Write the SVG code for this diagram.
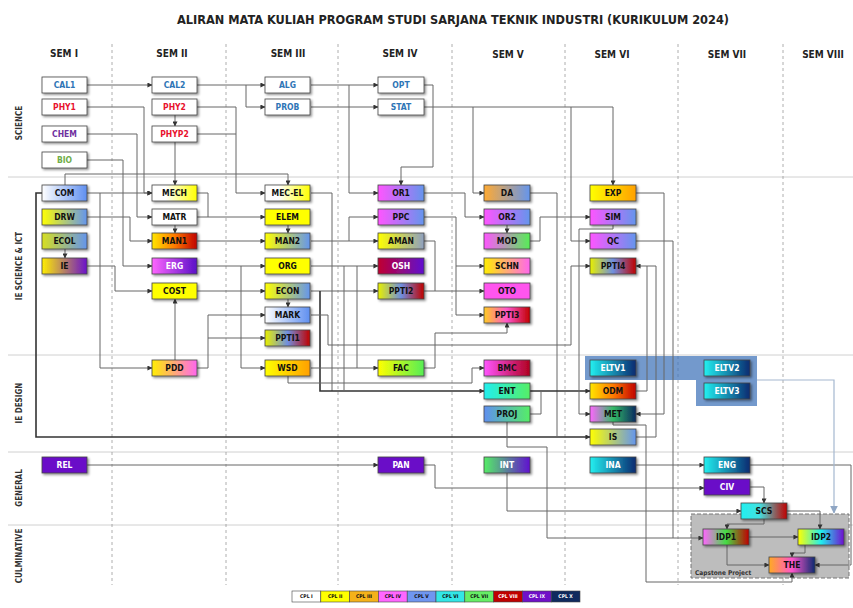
<svg xmlns="http://www.w3.org/2000/svg" width="853" height="608" viewBox="0 0 853 608">
<style>
.t{font-family:"DejaVu Sans Condensed","Liberation Sans",sans-serif;font-stretch:condensed;font-weight:bold;font-size:8.5px;text-anchor:middle;fill:#111}
.tw{fill:#fff}
.box{stroke:#444;stroke-width:0.8;filter:url(#sh)}
.c{fill:none;stroke:#666;stroke-width:1;marker-end:url(#a)}
.n{fill:none;stroke:#666;stroke-width:1}
.k{fill:none;stroke:#333;stroke-width:1.6;marker-end:url(#a)}
.kn{fill:none;stroke:#333;stroke-width:1.6}
.band{stroke:#d0d0d0;stroke-width:1}
.col{stroke:#999;stroke-width:0.8;stroke-dasharray:3,3}
.rl{font-family:"DejaVu Sans Condensed","Liberation Sans",sans-serif;font-weight:bold;font-size:8px;text-anchor:middle;fill:#333}
.sem{font-family:"DejaVu Sans Condensed","Liberation Sans",sans-serif;font-stretch:condensed;font-weight:bold;font-size:10px;text-anchor:middle;fill:#222}
.lg{font-family:"DejaVu Sans Condensed","Liberation Sans",sans-serif;font-weight:bold;font-size:5px;text-anchor:middle;fill:#111}
</style>
<defs>
<filter id="sh" x="-20%" y="-30%" width="150%" height="170%"><feDropShadow dx="1.5" dy="1.5" stdDeviation="0.8" flood-color="#000" flood-opacity="0.45"/></filter>
<marker id="a" viewBox="0 0 6 6" refX="5.5" refY="3" markerWidth="5" markerHeight="5" orient="auto" markerUnits="userSpaceOnUse"><path d="M0,0 L6,3 L0,6 z" fill="#333"/></marker>
<marker id="al" viewBox="0 0 6 6" refX="5.5" refY="3" markerWidth="8" markerHeight="8" orient="auto" markerUnits="userSpaceOnUse"><path d="M0,0 L6,3 L0,6 z" fill="#8fa6c4"/></marker>
<linearGradient id="WB"><stop offset="0" stop-color="#fff"/><stop offset="1" stop-color="#5f8ff0"/></linearGradient>
<linearGradient id="WY"><stop offset="0.3" stop-color="#fff"/><stop offset="1" stop-color="#ffff00"/></linearGradient>
<linearGradient id="YB"><stop offset="0" stop-color="#ffff00"/><stop offset="1" stop-color="#6495ed"/></linearGradient>
<linearGradient id="YGB"><stop offset="0" stop-color="#d7df20"/><stop offset="1" stop-color="#6495ed"/></linearGradient>
<linearGradient id="YP"><stop offset="0" stop-color="#ffee00"/><stop offset="1" stop-color="#6a0fcc"/></linearGradient>
<linearGradient id="YOR"><stop offset="0" stop-color="#ffe600"/><stop offset="0.5" stop-color="#ff7a00"/><stop offset="1" stop-color="#c00000"/></linearGradient>
<linearGradient id="MP"><stop offset="0" stop-color="#ff66ff"/><stop offset="1" stop-color="#5a0fc8"/></linearGradient>
<linearGradient id="YM"><stop offset="0" stop-color="#ffee00"/><stop offset="1" stop-color="#ff66ee"/></linearGradient>
<linearGradient id="YBR"><stop offset="0" stop-color="#e8f000"/><stop offset="0.5" stop-color="#6f8fe0"/><stop offset="1" stop-color="#c00000"/></linearGradient>
<linearGradient id="YO"><stop offset="0" stop-color="#ffff00"/><stop offset="1" stop-color="#ffa000"/></linearGradient>
<linearGradient id="MB"><stop offset="0" stop-color="#ff55ff"/><stop offset="1" stop-color="#6495ed"/></linearGradient>
<linearGradient id="YGr"><stop offset="0" stop-color="#ffff00"/><stop offset="1" stop-color="#8fa0c0"/></linearGradient>
<linearGradient id="RP"><stop offset="0" stop-color="#c00030"/><stop offset="1" stop-color="#6010d0"/></linearGradient>
<linearGradient id="YG"><stop offset="0" stop-color="#ffff00"/><stop offset="1" stop-color="#55ee55"/></linearGradient>
<linearGradient id="OB"><stop offset="0" stop-color="#ffaa33"/><stop offset="1" stop-color="#6495ed"/></linearGradient>
<linearGradient id="MG"><stop offset="0" stop-color="#ff55ff"/><stop offset="1" stop-color="#55ee55"/></linearGradient>
<linearGradient id="OMR"><stop offset="0" stop-color="#ffcc22"/><stop offset="0.5" stop-color="#ff55cc"/><stop offset="1" stop-color="#c00000"/></linearGradient>
<linearGradient id="MR"><stop offset="0" stop-color="#ff55ff"/><stop offset="1" stop-color="#b00020"/></linearGradient>
<linearGradient id="CG"><stop offset="0" stop-color="#22eeee"/><stop offset="1" stop-color="#55ee66"/></linearGradient>
<linearGradient id="BG"><stop offset="0" stop-color="#5f8ff0"/><stop offset="1" stop-color="#55ee66"/></linearGradient>
<linearGradient id="GP"><stop offset="0" stop-color="#55ee66"/><stop offset="1" stop-color="#6010d0"/></linearGradient>
<linearGradient id="CN"><stop offset="0" stop-color="#22f0f0"/><stop offset="1" stop-color="#0b2a70"/></linearGradient>
<linearGradient id="MGN"><stop offset="0" stop-color="#ff66ff"/><stop offset="0.5" stop-color="#33bb66"/><stop offset="1" stop-color="#0b2a60"/></linearGradient>
<linearGradient id="CR"><stop offset="0" stop-color="#22f0f0"/><stop offset="0.4" stop-color="#44e0e0"/><stop offset="1" stop-color="#c00000"/></linearGradient>
<linearGradient id="MGR"><stop offset="0" stop-color="#ff66ff"/><stop offset="0.5" stop-color="#44dd44"/><stop offset="1" stop-color="#c00000"/></linearGradient>
<linearGradient id="YCP"><stop offset="0" stop-color="#ffff00"/><stop offset="0.5" stop-color="#22eeee"/><stop offset="1" stop-color="#7010d0"/></linearGradient>
<linearGradient id="OMN"><stop offset="0" stop-color="#ffaa22"/><stop offset="0.5" stop-color="#ff55cc"/><stop offset="1" stop-color="#0b2a70"/></linearGradient>
</defs>
<rect x="0" y="0" width="853" height="608" fill="#fff"/>
<g id="title"><text x="453" y="24" class="sem" style="font-size:12.5px" textLength="552" lengthAdjust="spacingAndGlyphs">ALIRAN MATA KULIAH PROGRAM STUDI SARJANA TEKNIK INDUSTRI (KURIKULUM 2024)</text></g>
<g id="semesters">
<text x="64" y="57" class="sem">SEM I</text>
<text x="172" y="57" class="sem">SEM II</text>
<text x="288" y="57" class="sem">SEM III</text>
<text x="400" y="57" class="sem">SEM IV</text>
<text x="508" y="58" class="sem">SEM V</text>
<text x="612" y="58" class="sem">SEM VI</text>
<text x="727" y="58" class="sem">SEM VII</text>
<text x="823" y="58" class="sem">SEM VIII</text>
</g>
<g id="grid">
<line x1="8" y1="177" x2="853" y2="177" class="band"/>
<line x1="8" y1="355" x2="853" y2="355" class="band"/>
<line x1="8" y1="452" x2="853" y2="452" class="band"/>
<line x1="8" y1="525" x2="853" y2="525" class="band"/>
<line x1="112" y1="44" x2="112" y2="585" class="col"/>
<line x1="226" y1="44" x2="226" y2="585" class="col"/>
<line x1="338" y1="44" x2="338" y2="585" class="col"/>
<line x1="452" y1="44" x2="452" y2="585" class="col"/>
<line x1="565" y1="44" x2="565" y2="585" class="col"/>
<line x1="678" y1="44" x2="678" y2="585" class="col"/>
<line x1="783" y1="44" x2="783" y2="585" class="col"/>
<text class="rl" transform="translate(22,123) rotate(-90)">SCIENCE</text>
<text class="rl" transform="translate(22,266) rotate(-90)">IE SCIENCE &amp; ICT</text>
<text class="rl" transform="translate(22,403) rotate(-90)">IE DESIGN</text>
<text class="rl" transform="translate(22,488) rotate(-90)">GENERAL</text>
<text class="rl" transform="translate(22,556) rotate(-90)">CULMINATIVE</text>
</g>
<g id="capstone">
<rect x="691" y="514" width="158" height="64" fill="#bdbdbd" stroke="#777" stroke-width="1" stroke-dasharray="4,2"/>
<text x="695" y="575" style="font-family:'DejaVu Sans Condensed','Liberation Sans',sans-serif;font-weight:bold;font-size:6.5px;fill:#333">Capstone Project</text>
</g>
<g id="elective-band"><polygon points="585,356 757,356 757,406 696,406 696,380 585,380" fill="#3d72b8" fill-opacity="0.72"/></g>
<g id="connectors">
<path class="c" d="M87,85 H152"/>
<path class="c" d="M197,85 H265"/>
<path class="c" d="M246,85 V107 H265"/>
<path class="c" d="M311,85 H378"/>
<path class="c" d="M349,85 V193 H378"/>
<path class="c" d="M311,107 H378"/>
<path class="c" d="M424,85 H433 V167 H401 V185"/>
<path class="c" d="M424,107 H613 V185"/>
<path class="c" d="M473,107 V193 H484"/>
<path class="c" d="M571,107 V241 H590"/>
<path class="c" d="M87,107 H144 V193 H152"/>
<path class="c" d="M87,134 H137 V217 H152"/>
<path class="c" d="M87,160 H123 V266 H152"/>
<path class="c" d="M175,115 V126"/>
<path class="c" d="M175,142 V185"/>
<path class="c" d="M197,107 H236 V193 H265"/>
<path class="n" d="M197,134 H236"/>
<path class="c" d="M65,185 V174 H288 V185"/>
<path class="k" d="M42,193 H36 V437 H590"/>
<path class="c" d="M87,193 H152"/>
<path class="c" d="M100,193 V368 H152"/>
<path class="c" d="M87,217 H130 V241 H152"/>
<path class="c" d="M65,249 V258"/>
<path class="c" d="M87,266 H115 V291 H152"/>
<path class="n" d="M197,193 H208 V217"/>
<path class="c" d="M197,217 H265"/>
<path class="c" d="M175,225 V233"/>
<path class="c" d="M197,241 H265"/>
<path class="c" d="M197,266 H265"/>
<path class="c" d="M241,266 V368 H265"/>
<path class="c" d="M197,291 H265"/>
<path class="c" d="M175,360 V299"/>
<path class="c" d="M197,368 H208 V315 H265"/>
<path class="c" d="M208,338 H265"/>
<path class="c" d="M288,225 V233"/>
<path class="c" d="M288,299 V307"/>
<path class="n" d="M311,193 H332 V391"/>
<path class="c" d="M311,241 H378"/>
<path class="c" d="M349,241 V217 H378"/>
<path class="c" d="M311,266 H378"/>
<path class="c" d="M311,291 H378"/>
<path class="k" d="M320,291 V391 H484"/>
<path class="n" d="M344,266 V391"/>
<path class="n" d="M357,266 V368"/>
<path class="c" d="M311,315 H328 V345 H571 V266 H590"/>
<path class="c" d="M311,368 H378"/>
<path class="c" d="M288,376 V383 H472 V368 H484"/>
<path class="c" d="M424,193 H465 V217 H484"/>
<path class="c" d="M424,217 H456 V315 H484"/>
<path class="c" d="M456,266 H484"/>
<path class="n" d="M424,241 H435 V291"/>
<path class="c" d="M424,291 H484"/>
<path class="c" d="M424,368 H435 V333 H507 V323"/>
<path class="c" d="M507,225 V233"/>
<path class="n" d="M530,193 H557 V437"/>
<path class="c" d="M530,241 H540 V217 H590"/>
<path class="k" d="M530,391 H590"/>
<path class="n" d="M530,391 H541 V414 H530"/>
<path class="c" d="M507,422 V447 H547 V538 H703"/>
<path class="c" d="M636,193 H664 V414 H636"/>
<path class="c" d="M613,225 V229 H579 V414 H590"/>
<path class="n" d="M636,241 H673 V538"/>
<path class="c" d="M636,391 H647 V266 H636"/>
<path class="n" d="M636,437 H656 V266 H647"/>
<path class="c" d="M613,422 V425 H646 V582 H792 V573"/>
<path class="c" d="M87,465 H378"/>
<path class="c" d="M424,465 H435 V488 H704"/>
<path class="c" d="M507,473 V511 H741"/>
<path class="c" d="M636,465 H704"/>
<path class="c" d="M750,465 H851 V565 H815"/>
<path class="c" d="M750,487 H764 V503"/>
<path class="c" d="M787,511 H820 V529"/>
<path class="c" d="M764,519 V524 H727 V529"/>
<path class="c" d="M749,537 H798"/>
<path class="c" d="M727,545 V565 H769"/>
<path class="c" d="M805,545 V553 H792 V557"/>
<path d="M757,380 H834 V513" fill="none" stroke="#a5b8d0" stroke-width="1.2" marker-end="url(#al)"/>
</g>
<g id="nodes">
<g id="n-CAL1"><rect x="42" y="77" width="45" height="16" class="box" fill="#fff"/><text x="64.5" y="88.2" class="t" style="fill:#2e75b6">CAL1</text></g>
<g id="n-PHY1"><rect x="42" y="99" width="45" height="16" class="box" fill="#fff"/><text x="64.5" y="110.2" class="t" style="fill:#e8112d">PHY1</text></g>
<g id="n-CHEM"><rect x="42" y="126" width="45" height="16" class="box" fill="#fff"/><text x="64.5" y="137.2" class="t" style="fill:#7030a0">CHEM</text></g>
<g id="n-BIO"><rect x="42" y="152" width="45" height="16" class="box" fill="#fff"/><text x="64.5" y="163.2" class="t" style="fill:#70ad47">BIO</text></g>
<g id="n-COM"><rect x="42" y="185" width="45" height="16" class="box" fill="url(#WB)"/><text x="64.5" y="196.2" class="t">COM</text></g>
<g id="n-DRW"><rect x="42" y="209" width="45" height="16" class="box" fill="url(#YB)"/><text x="64.5" y="220.2" class="t">DRW</text></g>
<g id="n-ECOL"><rect x="42" y="233" width="45" height="16" class="box" fill="url(#YGB)"/><text x="64.5" y="244.2" class="t">ECOL</text></g>
<g id="n-IE"><rect x="42" y="258" width="45" height="16" class="box" fill="url(#YP)"/><text x="64.5" y="269.2" class="t">IE</text></g>
<g id="n-REL"><rect x="42" y="457" width="45" height="16" class="box" fill="#6a10c8"/><text x="64.5" y="468.2" class="t tw">REL</text></g>

<g id="n-CAL2"><rect x="152" y="77" width="45" height="16" class="box" fill="#fff"/><text x="174.5" y="88.2" class="t" style="fill:#2e75b6">CAL2</text></g>
<g id="n-PHY2"><rect x="152" y="99" width="45" height="16" class="box" fill="#fff"/><text x="174.5" y="110.2" class="t" style="fill:#e8112d">PHY2</text></g>
<g id="n-PHYP2"><rect x="152" y="126" width="45" height="16" class="box" fill="#fff"/><text x="174.5" y="137.2" class="t" style="fill:#e8112d">PHYP2</text></g>
<g id="n-MECH"><rect x="152" y="185" width="45" height="16" class="box" fill="url(#WY)"/><text x="174.5" y="196.2" class="t">MECH</text></g>
<g id="n-MATR"><rect x="152" y="209" width="45" height="16" class="box" fill="#fff"/><text x="174.5" y="220.2" class="t">MATR</text></g>
<g id="n-MAN1"><rect x="152" y="233" width="45" height="16" class="box" fill="url(#YOR)"/><text x="174.5" y="244.2" class="t">MAN1</text></g>
<g id="n-ERG"><rect x="152" y="258" width="45" height="16" class="box" fill="url(#MP)"/><text x="174.5" y="269.2" class="t tw">ERG</text></g>
<g id="n-COST"><rect x="152" y="283" width="45" height="16" class="box" fill="#ffff00"/><text x="174.5" y="294.2" class="t">COST</text></g>
<g id="n-PDD"><rect x="152" y="360" width="45" height="16" class="box" fill="url(#YM)"/><text x="174.5" y="371.2" class="t">PDD</text></g>

<g id="n-ALG"><rect x="265" y="77" width="45" height="16" class="box" fill="#fff"/><text x="287.5" y="88.2" class="t" style="fill:#2e75b6">ALG</text></g>
<g id="n-PROB"><rect x="265" y="99" width="45" height="16" class="box" fill="#fff"/><text x="287.5" y="110.2" class="t" style="fill:#2e75b6">PROB</text></g>
<g id="n-MECEL"><rect x="265" y="185" width="45" height="16" class="box" fill="url(#WY)"/><text x="287.5" y="196.2" class="t">MEC-EL</text></g>
<g id="n-ELEM"><rect x="265" y="209" width="45" height="16" class="box" fill="#ffff00"/><text x="287.5" y="220.2" class="t">ELEM</text></g>
<g id="n-MAN2"><rect x="265" y="233" width="45" height="16" class="box" fill="url(#YB)"/><text x="287.5" y="244.2" class="t">MAN2</text></g>
<g id="n-ORG"><rect x="265" y="258" width="45" height="16" class="box" fill="#ffff00"/><text x="287.5" y="269.2" class="t">ORG</text></g>
<g id="n-ECON"><rect x="265" y="283" width="45" height="16" class="box" fill="url(#YB)"/><text x="287.5" y="294.2" class="t">ECON</text></g>
<g id="n-MARK"><rect x="265" y="307" width="45" height="16" class="box" fill="url(#WB)"/><text x="287.5" y="318.2" class="t">MARK</text></g>
<g id="n-PPTI1"><rect x="265" y="330" width="45" height="16" class="box" fill="url(#YBR)"/><text x="287.5" y="341.2" class="t">PPTI1</text></g>
<g id="n-WSD"><rect x="265" y="360" width="45" height="16" class="box" fill="url(#YO)"/><text x="287.5" y="371.2" class="t">WSD</text></g>

<g id="n-OPT"><rect x="378" y="77" width="46" height="16" class="box" fill="#fff"/><text x="401" y="88.2" class="t" style="fill:#2e75b6">OPT</text></g>
<g id="n-STAT"><rect x="378" y="99" width="46" height="16" class="box" fill="#fff"/><text x="401" y="110.2" class="t" style="fill:#2e75b6">STAT</text></g>
<g id="n-OR1"><rect x="378" y="185" width="46" height="16" class="box" fill="url(#MB)"/><text x="401" y="196.2" class="t">OR1</text></g>
<g id="n-PPC"><rect x="378" y="209" width="46" height="16" class="box" fill="url(#MB)"/><text x="401" y="220.2" class="t">PPC</text></g>
<g id="n-AMAN"><rect x="378" y="233" width="46" height="16" class="box" fill="url(#YGr)"/><text x="401" y="244.2" class="t">AMAN</text></g>
<g id="n-OSH"><rect x="378" y="258" width="46" height="16" class="box" fill="url(#RP)"/><text x="401" y="269.2" class="t tw">OSH</text></g>
<g id="n-PPTI2"><rect x="378" y="283" width="46" height="16" class="box" fill="url(#YBR)"/><text x="401" y="294.2" class="t">PPTI2</text></g>
<g id="n-FAC"><rect x="378" y="360" width="46" height="16" class="box" fill="url(#YG)"/><text x="401" y="371.2" class="t">FAC</text></g>
<g id="n-PAN"><rect x="378" y="457" width="46" height="16" class="box" fill="#6a10c8"/><text x="401" y="468.2" class="t tw">PAN</text></g>

<g id="n-DA"><rect x="484" y="185" width="46" height="16" class="box" fill="url(#OB)"/><text x="507" y="196.2" class="t">DA</text></g>
<g id="n-OR2"><rect x="484" y="209" width="46" height="16" class="box" fill="url(#MB)"/><text x="507" y="220.2" class="t">OR2</text></g>
<g id="n-MOD"><rect x="484" y="233" width="46" height="16" class="box" fill="url(#MG)"/><text x="507" y="244.2" class="t">MOD</text></g>
<g id="n-SCHN"><rect x="484" y="258" width="46" height="16" class="box" fill="url(#YM)"/><text x="507" y="269.2" class="t">SCHN</text></g>
<g id="n-OTO"><rect x="484" y="283" width="46" height="16" class="box" fill="#ff55ee"/><text x="507" y="294.2" class="t">OTO</text></g>
<g id="n-PPTI3"><rect x="484" y="307" width="46" height="16" class="box" fill="url(#OMR)"/><text x="507" y="318.2" class="t">PPTI3</text></g>
<g id="n-BMC"><rect x="484" y="360" width="46" height="16" class="box" fill="url(#MR)"/><text x="507" y="371.2" class="t">BMC</text></g>
<g id="n-ENT"><rect x="484" y="383" width="46" height="16" class="box" fill="url(#CG)"/><text x="507" y="394.2" class="t">ENT</text></g>
<g id="n-PROJ"><rect x="484" y="406" width="46" height="16" class="box" fill="url(#BG)"/><text x="507" y="417.2" class="t">PROJ</text></g>
<g id="n-INT"><rect x="484" y="457" width="46" height="16" class="box" fill="url(#GP)"/><text x="507" y="468.2" class="t tw">INT</text></g>

<g id="n-EXP"><rect x="590" y="185" width="46" height="16" class="box" fill="url(#YO)"/><text x="613" y="196.2" class="t">EXP</text></g>
<g id="n-SIM"><rect x="590" y="209" width="46" height="16" class="box" fill="url(#MB)"/><text x="613" y="220.2" class="t">SIM</text></g>
<g id="n-QC"><rect x="590" y="233" width="46" height="16" class="box" fill="url(#MB)"/><text x="613" y="244.2" class="t">QC</text></g>
<g id="n-PPTI4"><rect x="590" y="258" width="46" height="16" class="box" fill="url(#YBR)"/><text x="613" y="269.2" class="t">PPTI4</text></g>
<g id="n-ELTV1"><rect x="590" y="360" width="46" height="16" class="box" fill="url(#CN)"/><text x="613" y="371.2" class="t tw">ELTV1</text></g>
<g id="n-ODM"><rect x="590" y="383" width="46" height="16" class="box" fill="url(#YOR)"/><text x="613" y="394.2" class="t">ODM</text></g>
<g id="n-MET"><rect x="590" y="406" width="46" height="16" class="box" fill="url(#MGN)"/><text x="613" y="417.2" class="t">MET</text></g>
<g id="n-IS"><rect x="590" y="429" width="46" height="16" class="box" fill="url(#YB)"/><text x="613" y="440.2" class="t">IS</text></g>
<g id="n-INA"><rect x="590" y="457" width="46" height="16" class="box" fill="url(#CN)"/><text x="613" y="468.2" class="t tw">INA</text></g>

<g id="n-ELTV2"><rect x="704" y="360" width="46" height="16" class="box" fill="url(#CN)"/><text x="727" y="371.2" class="t tw">ELTV2</text></g>
<g id="n-ELTV3"><rect x="704" y="383" width="46" height="16" class="box" fill="url(#CN)"/><text x="727" y="394.2" class="t tw">ELTV3</text></g>
<g id="n-ENG"><rect x="704" y="457" width="46" height="16" class="box" fill="url(#CN)"/><text x="727" y="468.2" class="t tw">ENG</text></g>
<g id="n-CIV"><rect x="704" y="479" width="46" height="16" class="box" fill="#6a10c8"/><text x="727" y="490.2" class="t tw">CIV</text></g>
<g id="n-SCS"><rect x="741" y="503" width="46" height="16" class="box" fill="url(#CR)"/><text x="764" y="514.2" class="t">SCS</text></g>
<g id="n-IDP1"><rect x="703" y="529" width="46" height="16" class="box" fill="url(#MGR)"/><text x="726" y="540.2" class="t">IDP1</text></g>
<g id="n-IDP2"><rect x="798" y="529" width="46" height="16" class="box" fill="url(#YCP)"/><text x="821" y="540.2" class="t">IDP2</text></g>
<g id="n-THE"><rect x="769" y="557" width="46" height="16" class="box" fill="url(#OMN)"/><text x="792" y="568.2" class="t">THE</text></g>
</g>
<g id="legend">
<rect x="292" y="591" width="28.8" height="11" fill="#fff" stroke="#444" stroke-width="0.6"/><text x="306.4" y="598.3" class="lg">CPL I</text>
<rect x="320.8" y="591" width="28.8" height="11" fill="#ffff00" stroke="#444" stroke-width="0.6"/><text x="335.2" y="598.3" class="lg">CPL II</text>
<rect x="349.6" y="591" width="28.8" height="11" fill="#f5b21a" stroke="#444" stroke-width="0.6"/><text x="364" y="598.3" class="lg">CPL III</text>
<rect x="378.4" y="591" width="28.8" height="11" fill="#ff66ff" stroke="#444" stroke-width="0.6"/><text x="392.8" y="598.3" class="lg">CPL IV</text>
<rect x="407.2" y="591" width="28.8" height="11" fill="#6f96f0" stroke="#444" stroke-width="0.6"/><text x="421.6" y="598.3" class="lg">CPL V</text>
<rect x="436" y="591" width="28.8" height="11" fill="#33e6e6" stroke="#444" stroke-width="0.6"/><text x="450.4" y="598.3" class="lg">CPL VI</text>
<rect x="464.8" y="591" width="28.8" height="11" fill="#66ee66" stroke="#444" stroke-width="0.6"/><text x="479.2" y="598.3" class="lg">CPL VII</text>
<rect x="493.6" y="591" width="28.8" height="11" fill="#c00000" stroke="#444" stroke-width="0.6"/><text x="508" y="598.3" class="lg" style="fill:#fff">CPL VIII</text>
<rect x="522.4" y="591" width="28.8" height="11" fill="#7010c8" stroke="#444" stroke-width="0.6"/><text x="536.8" y="598.3" class="lg" style="fill:#fff">CPL IX</text>
<rect x="551.2" y="591" width="28.8" height="11" fill="#0f2a5e" stroke="#444" stroke-width="0.6"/><text x="565.6" y="598.3" class="lg" style="fill:#fff">CPL X</text>
</g>
</svg>
